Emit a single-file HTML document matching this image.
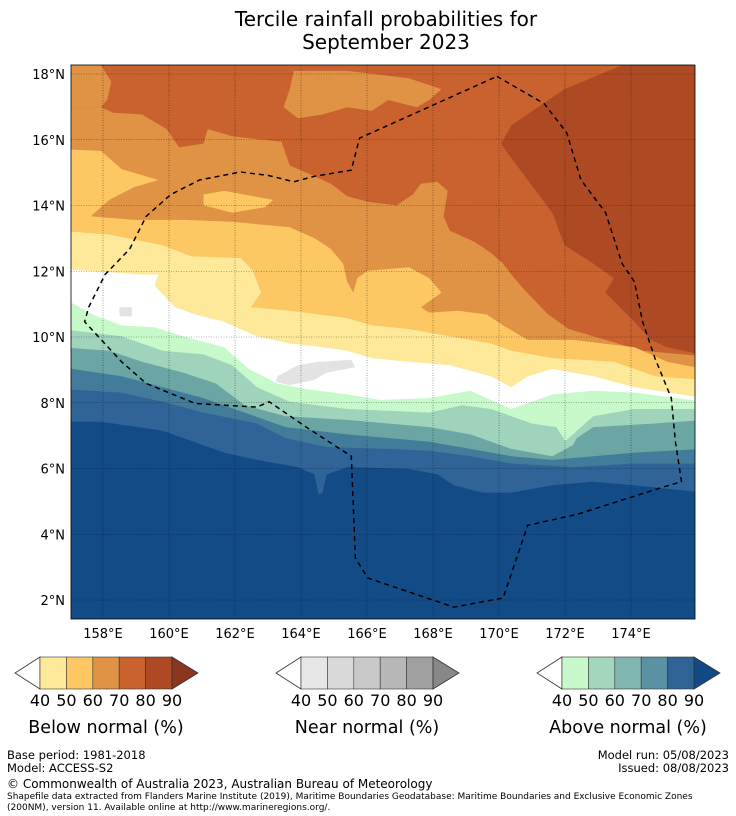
<!DOCTYPE html>
<html><head><meta charset="utf-8">
<style>
body{margin:0;background:#fff;width:736px;height:816px;overflow:hidden;font-family:"DejaVu Sans","Liberation Sans",sans-serif;}
svg{position:absolute;left:0;top:0}
</style></head>
<body>
<svg id="s" width="736" height="816" viewBox="0 0 736 816" xmlns="http://www.w3.org/2000/svg">
<text x="386" y="26" font-size="20" text-anchor="middle">Tercile rainfall probabilities for</text>
<text x="386" y="49" font-size="20" text-anchor="middle">September 2023</text>
<defs><clipPath id="mc"><rect x="71" y="65" width="624" height="554"/></clipPath></defs>
<g id="map" clip-path="url(#mc)"></g>
<g id="grid"></g>
<rect x="71" y="65" width="624" height="554" fill="none" stroke="#000" stroke-width="0.8"/>
<g id="axes" font-size="13"></g>
<g id="bars"></g>
<g font-size="11.5">
<text x="7" y="759">Base period: 1981-2018</text>
<text x="7" y="772">Model: ACCESS-S2</text>
<text x="729" y="759" text-anchor="end">Model run: 05/08/2023</text>
<text x="729" y="772" text-anchor="end">Issued: 08/08/2023</text>
<text x="7" y="788" font-size="12">© Commonwealth of Australia 2023, Australian Bureau of Meteorology</text>
<text x="7" y="799" font-size="9">Shapefile data extracted from Flanders Marine Institute (2019), Maritime Boundaries Geodatabase: Maritime Boundaries and Exclusive Economic Zones</text>
<text x="7" y="810" font-size="9">(200NM), version 11. Available online at http://www.marineregions.org/.</text>
</g>
</svg>
<script>
// Contour boundaries (zoom-image coordinates)
const topLeftPatch=[[27,14],[100,14],[125,60],[115,110],[100,130],[27,130]];
const topPatch=[[570,30],[700,30],[850,50],[930,80],[900,110],[870,130],[800,110],[760,140],[700,130],[640,150],[580,160],[545,130],[560,80]];
const darkRegion=[[1400,0],[1570,0],[1570,812],[1480,790],[1440,770],[1400,720],[1330,640],[1350,600],[1300,560],[1230,510],[1200,420],[1140,330],[1100,270],[1075,230],[1100,180],[1230,80]];
const b1=[[0,130],[100,130],[130,145],[200,150],[260,190],[290,240],[350,230],[360,190],[420,210],[540,225],[560,290],[620,320],[660,340],[700,375],[750,390],[820,400],[860,370],[880,340],[920,335],[945,360],[935,430],[950,470],[1010,500],[1050,530],[1080,560],[1100,590],[1130,630],[1190,700],[1240,740],[1330,770],[1420,800],[1570,815]];
const b2=[[0,245],[100,250],[150,300],[240,330],[180,350],[120,385],[75,430],[180,440],[300,440],[420,445],[560,460],[620,490],[660,520],[690,560],[700,610],[715,640],[725,600],[750,580],[850,570],[900,600],[930,640],[880,680],[900,695],[970,690],[1040,700],[1080,730],[1140,770],[1250,770],[1400,790],[1480,830],[1570,850]];
const pocket=[[350,370],[400,360],[520,385],[500,405],[420,420],[350,400]];
const b3=[[0,470],[120,480],[250,510],[320,540],[440,545],[470,580],[490,640],[465,680],[560,690],[700,710],[760,730],[850,740],[950,760],[1050,780],[1100,800],[1200,820],[1350,830],[1450,870],[1570,880]];
const b4=[[0,575],[200,590],[240,590],[230,620],[280,680],[330,700],[400,720],[480,760],[560,780],[640,790],[700,800],[760,820],[850,830],[950,840],[1050,870],[1100,900],[1140,870],[1200,850],[1300,870],[1400,900],[1570,930]];
const grayPatch=[[530,870],[580,840],[630,830],[710,825],[720,845],[650,860],[620,880],[560,895],[525,885]];
const graySquare=[[145,680],[175,680],[175,705],[145,705]];
const b5=[[0,650],[80,700],[150,730],[230,735],[300,760],[400,790],[460,850],[530,890],[600,905],[700,920],[780,935],[900,930],[1000,910],[1100,960],[1200,920],[1300,910],[1400,915],[1570,940]];
const b6=[[0,740],[150,760],[250,800],[350,810],[420,840],[480,900],[560,940],[700,960],[800,965],[900,970],[940,960],[980,950],[1050,960],[1150,1000],[1210,1010],[1250,1080],[1230,1050],[1300,980],[1400,960],[1570,960]];
const b7=[[0,790],[120,800],[200,830],[300,860],[380,890],[450,950],[550,980],[700,990],[800,1000],[900,1010],[1000,1030],[1100,1070],[1200,1090],[1250,1060],[1260,1040],[1300,1010],[1450,1000],[1570,990]];
const b8=[[0,845],[150,870],[250,900],[350,930],[450,970],[550,1010],[700,1030],[800,1040],[900,1050],[1000,1070],[1100,1090],[1200,1100],[1300,1090],[1400,1080],[1570,1070]];
const b9=[[0,905],[150,915],[250,940],[350,970],[480,1000],[550,1040],[650,1065],[800,1070],[900,1075],[1000,1090],[1100,1110],[1250,1120],[1400,1110],[1570,1110]];
const b10=[[0,995],[100,995],[250,1020],[400,1080],[480,1100],[580,1120],[620,1140],[630,1195],[640,1190],[650,1140],[700,1120],[850,1125],[920,1140],[960,1170],[1030,1190],[1100,1190],[1200,1170],[1300,1160],[1400,1170],[1570,1190]];
const eez=[[1065,45],[1180,120],[1235,200],[1270,330],[1330,420],[1370,560],[1400,610],[1420,720],[1450,820],[1490,930],[1500,1050],[1515,1160],[1470,1175],[1260,1250],[1140,1280],[1080,1480],[960,1505],[750,1425],[720,1370],[710,1090],[600,1010],[510,940],[480,955],[330,945],[210,890],[150,830],[60,720],[70,680],[110,590],[170,520],[210,430],[270,370],[340,330],[440,308],[510,318],[570,335],[620,320],[710,303],[730,215],[1065,45]];
const lonTicks=[158,160,162,164,166,168,170,172,174];
const latTicks=[2,4,6,8,10,12,14,16,18];
const belowColors=["#fee99a","#fdc863","#e09245","#c9622f","#ad4a24","#8c3620"];
const nearColors=["#e6e6e6","#d9d9d9","#c8c8c8","#b7b7b7","#a0a0a0","#888888"];
const aboveColors=["#c8f9ca","#a3d6bd","#80b6b0","#5a92a4","#2f6396","#124a86"];
const barLabels=["40","50","60","70","80","90"];

const NS="http://www.w3.org/2000/svg";
const map=document.getElementById('map');
const tx=p=>[(60+p[0]/2.4375).toFixed(1),(60+p[1]/2.751).toFixed(1)];
const lonX=l=>103+(l-158)*33;
const latY=l=>74+(18-l)*32.875;
function poly(parent,pts,fill,name){
  const e=document.createElementNS(NS,'polygon');
  e.setAttribute('points',pts.map(p=>tx(p).join(',')).join(' '));
  e.setAttribute('fill',fill);
  
  
  parent.appendChild(e);
}
function below(b){return b.concat([[1570,1700],[0,1700]]);}
poly(map,[[0,0],[1570,0],[1570,1700],[0,1700]],"#c9622f","band-below-70-80");
poly(map,topLeftPatch,"#e09245","band-below-60-70-topleft");
poly(map,topPatch,"#e09245","band-below-60-70-top");
poly(map,darkRegion,"#ad4a24","band-below-80-90");
poly(map,below(b1),"#e09245","band-below-60-70");
poly(map,below(b2),"#fdc863","band-below-50-60");
poly(map,pocket,"#fdc863","band-below-50-60-pocket");
poly(map,below(b3),"#fee99a","band-below-40-50");
poly(map,below(b4),"#ffffff","band-neutral");
poly(map,grayPatch,"#e3e3e3","band-near-40-50");
poly(map,graySquare,"#e3e3e3","band-near-40-50-small");
poly(map,below(b5),"#c8f9ca","band-above-40-50");
poly(map,below(b6),"#9fd3bc","band-above-50-60");
poly(map,below(b7),"#6ba6a5","band-above-60-70");
poly(map,below(b8),"#437c9a","band-above-70-80");
poly(map,below(b9),"#306398","band-above-80-90");
poly(map,below(b10),"#134b86","band-above-90");
const ez=document.createElementNS(NS,'polyline');
ez.setAttribute('points',eez.map(p=>tx(p).join(',')).join(' '));
ez.setAttribute('fill','none');ez.setAttribute('stroke','#000');ez.setAttribute('stroke-width','1.5');ez.setAttribute('stroke-dasharray','5,4');


map.appendChild(ez);

const grid=document.getElementById('grid'),axes=document.getElementById('axes');
lonTicks.forEach(l=>{
  const x=lonX(l);
  const g=document.createElementNS(NS,'line');
  g.setAttribute('x1',x);g.setAttribute('x2',x);g.setAttribute('y1',65);g.setAttribute('y2',619);
  g.setAttribute('stroke','#000');g.setAttribute('stroke-width','0.6');g.setAttribute('stroke-dasharray','1,1.5');g.setAttribute('opacity','0.6');
  
  
  grid.appendChild(g);
  const t=document.createElementNS(NS,'text');
  t.setAttribute('x',x);t.setAttribute('y',638);t.setAttribute('text-anchor','middle');t.textContent=l+'°E';
  
  
  axes.appendChild(t);
});
latTicks.forEach(l=>{
  const y=latY(l);
  const g=document.createElementNS(NS,'line');
  g.setAttribute('x1',71);g.setAttribute('x2',695);g.setAttribute('y1',y);g.setAttribute('y2',y);
  g.setAttribute('stroke','#000');g.setAttribute('stroke-width','0.6');g.setAttribute('stroke-dasharray','1,1.5');g.setAttribute('opacity','0.6');
  
  
  grid.appendChild(g);
  const t=document.createElementNS(NS,'text');
  t.setAttribute('x',65);t.setAttribute('y',y+5);t.setAttribute('text-anchor','end');t.textContent=l+'°N';
  
  
  axes.appendChild(t);
});

const bars=document.getElementById('bars');
function colorbar(x0,cols,title,name){
  const g=document.createElementNS(NS,'g');
  
  
  const y0=657,h=32,w=26.4;
  const L=document.createElementNS(NS,'polygon');
  L.setAttribute('points',`${x0},${y0} ${x0-25},${y0+h/2} ${x0},${y0+h}`);
  L.setAttribute('fill','#fff');L.setAttribute('stroke','#333');L.setAttribute('stroke-width','0.8');
  g.appendChild(L);
  for(let i=0;i<5;i++){
    const r=document.createElementNS(NS,'rect');
    r.setAttribute('x',x0+i*w);r.setAttribute('y',y0);r.setAttribute('width',w);r.setAttribute('height',h);
    r.setAttribute('fill',cols[i]);r.setAttribute('stroke','#333');r.setAttribute('stroke-width','0.6');
    g.appendChild(r);
  }
  const xe=x0+5*w;
  const R=document.createElementNS(NS,'polygon');
  R.setAttribute('points',`${xe},${y0} ${xe+26},${y0+h/2} ${xe},${y0+h}`);
  R.setAttribute('fill',cols[5]);R.setAttribute('stroke','#333');R.setAttribute('stroke-width','0.8');
  g.appendChild(R);
  barLabels.forEach((lb,i)=>{
    const t=document.createElementNS(NS,'text');
    t.setAttribute('x',x0+i*w);t.setAttribute('y',706);t.setAttribute('text-anchor','middle');t.setAttribute('font-size','16');
    t.textContent=lb;g.appendChild(t);
  });
  const t=document.createElementNS(NS,'text');
  t.setAttribute('x',x0+2.5*w);t.setAttribute('y',733);t.setAttribute('text-anchor','middle');t.setAttribute('font-size','17.5');
  t.textContent=title;g.appendChild(t);
  bars.appendChild(g);
}
colorbar(40,belowColors,"Below normal (%)","colorbar-below");
colorbar(301,nearColors,"Near normal (%)","colorbar-near");
colorbar(562,aboveColors,"Above normal (%)","colorbar-above");
</script>
</body></html>
